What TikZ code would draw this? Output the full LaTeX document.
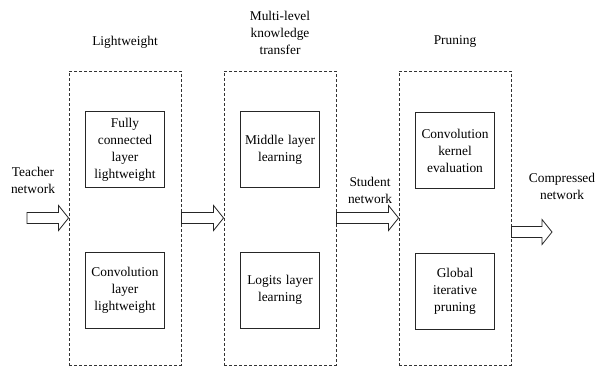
\documentclass[tikz,border=0pt]{standalone}
\usepackage{fontspec}
\setmainfont{Liberation Serif}
\usetikzlibrary{calc}

\tikzset{
    stage/.style={draw=black!80, dash pattern=on 3pt off 2pt, line width=0.9pt,
        minimum width=112pt, minimum height=294pt, inner sep=0pt},
    task/.style={draw=black!85, line width=0.9pt, text width=75pt, align=center,
        minimum height=76pt, inner sep=2pt},
    caption/.style={align=center, inner sep=0pt},
    fat/.style={draw=black!85, line width=0.8pt, fill=white}
}

% hollow block arrow from #1 to #2
\newcommand{\fatarrow}[2]{%
    \draw[fat] ($(#1)+(0,-5.5)$) -- ($(#2)+(-10,-5.5)$) -- ($(#2)+(-10,-12.5)$)
        -- (#2) -- ($(#2)+(-10,12.5)$) -- ($(#2)+(-10,5.5)$) -- ($(#1)+(0,5.5)$) -- cycle;}

\begin{document}
\begin{tikzpicture}[x=1pt, y=-1pt, font=\fontsize{13.4}{17}\selectfont]
    \useasboundingbox (0,0) rectangle (597,368);

    % Stages
    \node[stage] (lw) at (125,218) {};
    \node[stage] (kt) at (280,218) {};
    \node[stage] (pr) at (455,218) {};

    \node[caption] (lwt) at (125,42) {Lightweight};
    \node[caption] (ktt) at (280,33) {Multi-level\\knowledge\\transfer};
    \node[caption] (prt) at (455,42) {Pruning};

    % Tasks inside each stage
    \node[task] (fc) at (125,149.5) {Fully\\connected\\layer\\lightweight};
    \node[task] (cv) at (125,290) {Convolution\\layer\\lightweight};
    \node[task] (ml) at (280,149.5) {Middle layer\\learning};
    \node[task] (lg) at (280,290) {Logits layer\\learning};
    \node[task] (ke) at (455,150.5) {Convolution\\kernel\\evaluation};
    \node[task] (gp) at (455,291) {Global\\iterative\\pruning};

    % Networks
    \node[caption] (teacher) at (33,180) {Teacher\\network};
    \node[caption] (student) at (370,190) {Student\\network};
    \node[caption] (compressed) at (562,186) {Compressed\\network};

    % Arrows
    \coordinate (src) at (27,218);
    \coordinate (dst) at (552,232);
    \coordinate (prout) at (pr.east |- dst);
    \fatarrow{src}{lw.west}
    \fatarrow{lw.east}{kt.west}
    \fatarrow{kt.east}{pr.west}
    \fatarrow{prout}{dst}
\end{tikzpicture}
\end{document}
